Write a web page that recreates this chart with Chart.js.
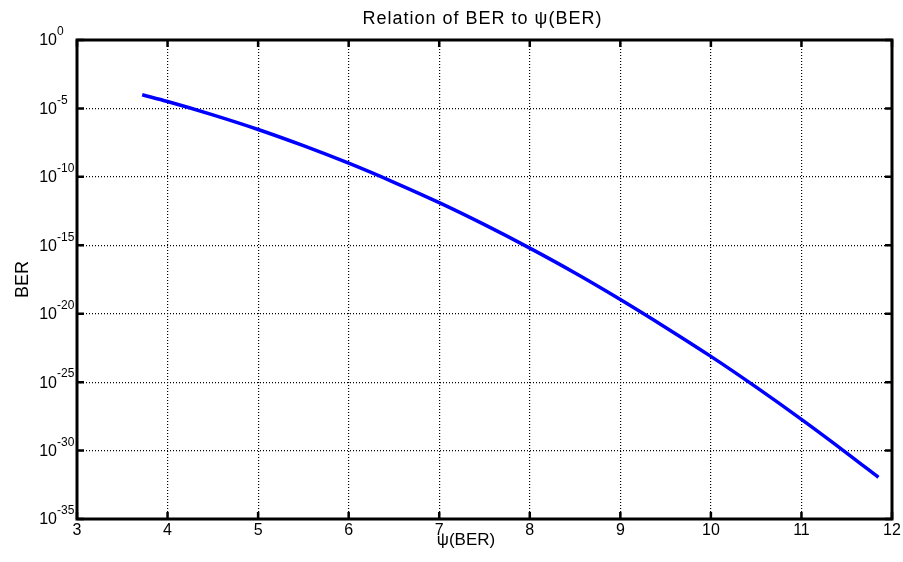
<!DOCTYPE html>
<html><head><meta charset="utf-8">
<script src="https://cdn.jsdelivr.net/npm/chart.js@4"></script>
<style>html,body{margin:0;padding:0;background:#fff}canvas{display:block}</style>
</head><body>
<canvas id="c" width="903" height="562"></canvas>
<script>
// ---- data ----
const psi = [3.72, 4.0, 4.5, 5.0, 5.5, 6.0, 6.5, 7.0, 7.5, 8.0, 8.5, 9.0, 9.5, 10.0, 10.5, 11.0, 11.5, 11.85];
const ber = [1.0e-4, 3.2e-5, 3.4e-6, 2.9e-7, 1.9e-8, 9.9e-10, 4.0e-11, 1.3e-12, 3.2e-14, 6.2e-16, 9.5e-18, 1.1e-19, 1.0e-21, 7.6e-24, 4.3e-26, 1.9e-28, 6.6e-31, 1.1e-32];
const xTicks = [3, 4, 5, 6, 7, 8, 9, 10, 11, 12];
const yTickExponents = [0, -5, -10, -15, -20, -25, -30, -35];
const titleText = 'Relation of BER to \u03C8(BER)';
const xLabel = '\u03C8(BER)';
const yLabel = 'BER';

const FONT = '"Liberation Sans", Arial, Helvetica, sans-serif';
const yTickValues = yTickExponents.map(e => Math.pow(10, e));

const framePlugin = {
  id: 'frame',
  afterDraw(chart) {
    const { ctx, chartArea: a, scales: { x, y } } = chart;
    ctx.save();
    ctx.setLineDash([]);
    ctx.strokeStyle = '#000';
    ctx.fillStyle = '#000';
    // inner tick marks on all four sides
    ctx.lineWidth = 2.5;
    ctx.beginPath();
    xTicks.forEach(v => {
      const px = x.getPixelForValue(v);
      ctx.moveTo(px, a.top); ctx.lineTo(px, a.top + 7);
      ctx.moveTo(px, a.bottom); ctx.lineTo(px, a.bottom - 7);
    });
    yTickValues.forEach(v => {
      const py = y.getPixelForValue(v);
      ctx.moveTo(a.left, py); ctx.lineTo(a.left + 7, py);
      ctx.moveTo(a.right, py); ctx.lineTo(a.right - 7, py);
    });
    ctx.stroke();
    // box
    ctx.lineWidth = 3;
    ctx.strokeRect(a.left, a.top, a.right - a.left, a.bottom - a.top);

    // x tick labels
    ctx.font = '16px ' + FONT;
    ctx.textAlign = 'center';
    ctx.textBaseline = 'middle';
    xTicks.forEach(v => ctx.fillText(String(v), x.getPixelForValue(v), a.bottom + 12));
    // y tick labels: 10^e
    yTickExponents.forEach((e, i) => {
      const py = y.getPixelForValue(yTickValues[i]);
      ctx.font = '16px ' + FONT;
      ctx.textAlign = 'right';
      ctx.textBaseline = 'middle';
      ctx.fillText('10', a.left - 20, py + 1);
      ctx.font = '12px ' + FONT;
      ctx.textAlign = 'left';
      ctx.fillText(String(e), a.left - 20, py - 8);
    });
    // title
    ctx.font = '18px ' + FONT;
    ctx.textAlign = 'center';
    ctx.textBaseline = 'middle';
    if ('letterSpacing' in ctx) ctx.letterSpacing = '1px';
    ctx.fillText(titleText, (a.left + a.right) / 2 - 2, 19);
    if ('letterSpacing' in ctx) ctx.letterSpacing = '0px';
    // x label
    ctx.font = '17px ' + FONT;
    ctx.fillText(xLabel, 466, a.bottom + 21);
    // y label
    ctx.font = '18px ' + FONT;
    ctx.translate(23, (a.top + a.bottom) / 2);
    ctx.rotate(-Math.PI / 2);
    ctx.fillText(yLabel, 0, 0);
    ctx.restore();
  }
};

new Chart(document.getElementById('c'), {
  type: 'line',
  data: {
    datasets: [{
      data: psi.map((v, i) => ({ x: v, y: ber[i] })),
      borderColor: '#0000FF',
      borderWidth: 3.5,
      pointRadius: 0,
      fill: false,
      cubicInterpolationMode: 'monotone'
    }]
  },
  options: {
    responsive: false,
    animation: false,
    devicePixelRatio: 1,
    layout: { padding: { left: 77, top: 40, right: 11, bottom: 43 } },
    plugins: { legend: { display: false }, tooltip: { enabled: false }, title: { display: false } },
    scales: {
      x: {
        type: 'linear', min: 3, max: 12,
        ticks: { display: false, stepSize: 1 },
        afterBuildTicks: s => { s.ticks = xTicks.map(v => ({ value: v })); },
        grid: { color: '#000', lineWidth: 1.2, drawTicks: false },
        border: { display: false, dash: [1, 2] }
      },
      y: {
        type: 'logarithmic', min: 1e-35, max: 1,
        ticks: { display: false },
        afterBuildTicks: s => { s.ticks = yTickValues.map(v => ({ value: v })); },
        grid: { color: '#000', lineWidth: 1.2, drawTicks: false },
        border: { display: false, dash: [1, 2] }
      }
    }
  },
  plugins: [framePlugin]
});
</script>
</body></html>
